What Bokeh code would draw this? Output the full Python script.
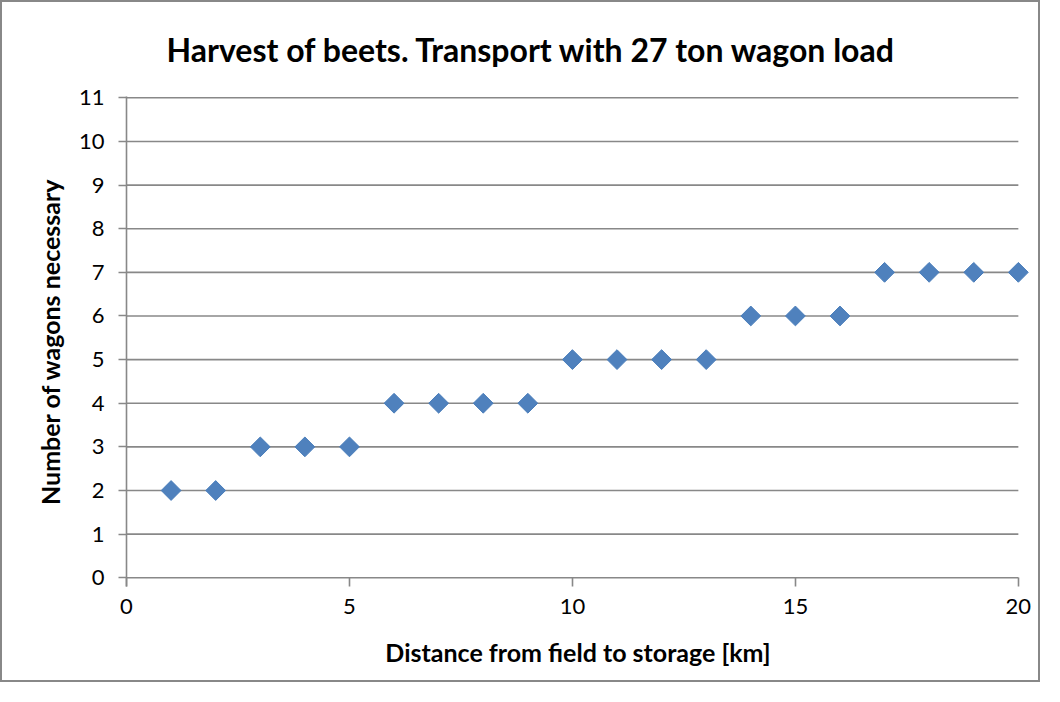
from bokeh.plotting import figure
from bokeh.models import Range1d, FixedTicker, Title
from bokeh.embed import file_html
from bokeh.resources import INLINE

title_text = "Harvest of beets. Transport with 27 ton wagon load"
x_label = "Distance from field to storage [km]"
y_label = "Number of wagons necessary"

distance_km = [1, 2, 3, 4, 5, 6, 7, 8, 9, 10, 11, 12, 13, 14, 15, 16, 17, 18, 19, 20]
wagons = [2, 2, 3, 3, 3, 4, 4, 4, 4, 5, 5, 5, 5, 6, 6, 6, 7, 7, 7, 7]

x_ticks = [0, 5, 10, 15, 20]
y_ticks = list(range(0, 12))

FONT = "Lato"
GRID = "#888888"

p = figure(width=1040, height=682, output_backend="svg", toolbar_location=None,
           x_range=Range1d(0, 20.25), y_range=Range1d(-0.2, 11.03),
           min_border_left=124, min_border_right=13, min_border_top=94, min_border_bottom=98)
p.styles = {"border": "2px solid #888888"}
p.outline_line_color = None
p.xgrid.visible = False
p.ygrid.visible = False

# gridlines drawn from the tick values
p.segment(x0=[x_ticks[0]] * len(y_ticks), x1=[x_ticks[-1]] * len(y_ticks), y0=y_ticks, y1=y_ticks,
          line_color=GRID, line_width=1.6)

p.scatter(distance_km, wagons, marker="square", angle=0.785398, size=14,
          fill_color="#4F81BD", line_color="#4A7EBB", line_width=1)

ax = p.xaxis[0]
ax.ticker = FixedTicker(ticks=x_ticks)
ax.axis_line_color = None
ax.major_tick_in = 9
ax.major_tick_out = 0
ax.major_tick_line_color = GRID
ax.major_tick_line_width = 1.6
ax.minor_tick_line_color = None
ax.major_label_text_font = FONT
ax.major_label_text_font_size = "22px"
ax.major_label_text_color = "black"
ax.major_label_standoff = 12
ax.axis_label = x_label
ax.axis_label_text_font = FONT
ax.axis_label_text_font_style = "bold"
ax.axis_label_text_font_size = "25px"
ax.axis_label_text_color = "black"
ax.axis_label_standoff = 20

ay = p.yaxis[0]
ay.ticker = FixedTicker(ticks=y_ticks)
ay.axis_line_color = GRID
ay.axis_line_width = 1.6
ay.major_tick_in = 0
ay.major_tick_out = 8
ay.major_tick_line_color = GRID
ay.major_tick_line_width = 1.6
ay.minor_tick_line_color = None
ay.major_label_text_font = FONT
ay.major_label_text_font_size = "22px"
ay.major_label_text_color = "black"
ay.major_label_standoff = 14
ay.axis_label = y_label
ay.axis_label_text_font = FONT
ay.axis_label_text_font_style = "bold"
ay.axis_label_text_font_size = "25px"
ay.axis_label_text_color = "black"
ay.axis_label_standoff = 11

p.add_layout(Title(text=title_text, align="left", offset=40, standoff=52, vertical_align="top",
                   text_font=FONT, text_font_style="bold", text_font_size="32px",
                   text_color="black"), "above")

open("out.html", "w").write(file_html(p, INLINE))
